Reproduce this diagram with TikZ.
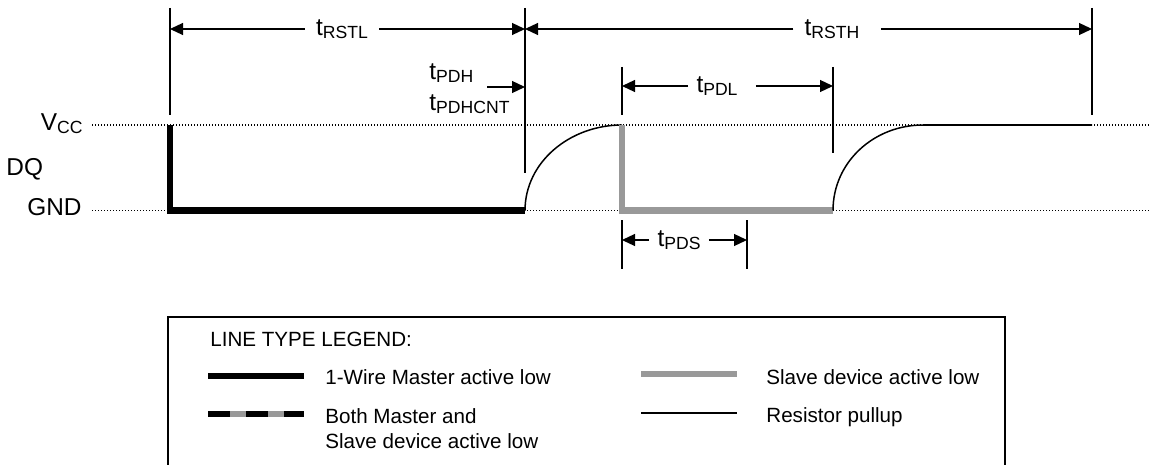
\documentclass[tikz,border=0pt]{standalone}
\usepackage{fontspec}
\setmainfont{Liberation Sans}
\usetikzlibrary{arrows.meta,positioning,calc}
\definecolor{slavegray}{HTML}{999999}
\newcommand{\tsub}[1]{\raisebox{-1.5pt}{\fontsize{8.8}{9}\selectfont #1}}

\begin{document}
\begin{tikzpicture}[
    x=0.5pt, y=-0.5pt,
    lbl/.style={font=\fontsize{12.2}{14}\selectfont, inner sep=0pt},
    dimlbl/.style={font=\fontsize{12.2}{14}\selectfont, inner xsep=5.5pt, inner ysep=0pt},
    legtext/.style={font=\fontsize{10.3}{12.5}\selectfont, inner sep=0pt, anchor=west, align=left},
    dim/.style={-{Triangle[length=6.5pt, width=6pt]}, line width=0.6pt},
    ext/.style={line width=0.6pt},
    rail/.style={dash pattern=on 0.6pt off 0.9pt, line width=0.5pt},
    master/.style={line width=3.4pt},
    slave/.style={line width=3.4pt, slavegray},
    pullup/.style={line width=0.75pt}
  ]
    \useasboundingbox (0,0) rectangle (1150,465);

    % level labels and dotted rails
    \node[lbl, anchor=east] (vcc) at (83,124) {V\tsub{CC}};
    \node[lbl, anchor=west] (dq) at (6,169) {DQ};
    \node[lbl, anchor=east] (gnd) at (82,207) {GND};
    \coordinate (vccL) at (92,125);
    \coordinate (vccR) at (1150,125);
    \coordinate (gndL) at (92,210.5);
    \coordinate (gndR) at (1150,210.5);
    \draw[rail] (vccL) -- (vccR);
    \draw[rail] (gndL) -- (gndR);

    % waveform
    \draw[master] (170,125) -- (170,210.5) -- (525,210.5);
    \draw[pullup] (525,210.5) .. controls (525,162) and (570,125) .. (622,125);
    \draw[slave] (622,125) -- (622,210.5) -- (833,210.5);
    \draw[pullup] (833,210.5) .. controls (833,162) and (874,125) .. (923,125) -- (1092,125);

    % extension lines
    \draw[ext] (170,8) -- (170,115);
    \draw[ext] (525,8) -- (525,173);
    \draw[ext] (1092,8) -- (1092,115);
    \draw[ext] (622,67) -- (622,115);
    \draw[ext] (833,67) -- (833,153);
    \draw[ext] (622,220) -- (622,269);
    \draw[ext] (747,220) -- (747,269);

    % timing arrows
    \coordinate (rstlA) at (170,29);
    \coordinate (rstlB) at (525,29);
    \coordinate (rsthB) at (1092,29);
    \node[dimlbl] (rstl) at (342,29) {t\tsub{RSTL}};
    \node[dimlbl] (rsth) at (832,29) {t\tsub{RSTH}};
    \draw[dim] (rstl.west) -- (rstlA);
    \draw[dim] (rstl.east) -- (rstlB);
    \draw[dim] (rsth.west) -- (rstlB);
    \draw[dim, shorten <=5pt] (rsth.east) -- (rsthB);

    \node[lbl, anchor=west] (pdh) at (429,73) {t\tsub{PDH}};
    \node[lbl, anchor=west] (pdhcnt) at (429,104) {t\tsub{PDHCNT}};
    \coordinate (pdhA) at (487,87);
    \coordinate (pdhB) at (525,87);
    \draw[dim] (pdhA) -- (pdhB);

    \coordinate (pdlA) at (622,86);
    \coordinate (pdlB) at (833,86);
    \node[dimlbl, inner xsep=4pt] (pdl) at (717,86) {t\tsub{PDL}};
    \draw[dim] (pdl.west) -- (pdlA);
    \draw[dim, shorten <=5pt] (pdl.east) -- (pdlB);

    \coordinate (pdsA) at (622,240);
    \coordinate (pdsB) at (747,240);
    \node[dimlbl, inner xsep=4pt] (pds) at (679,240) {t\tsub{PDS}};
    \draw[dim] (pds.west) -- (pdsA);
    \draw[dim] (pds.east) -- (pdsB);

    % legend
    \draw[line width=0.6pt] (168,466) -- (168,317) -- (1005,317) -- (1005,466);
    \node[legtext] (legTitle) at (210,339) {LINE TYPE LEGEND:};
    \draw[master] (208,376) -- (304,376);
    \node[legtext] (legMaster) at (325,377) {1-Wire Master active low};
    \draw[slave] (208,414) -- (304,414);
    \draw[master, dash pattern=on 11pt off 8pt] (208,414) -- (304,414);
    \node[legtext] (legBoth) at (325,428.5) {Both Master and\\Slave device active low};
    \draw[slave] (641,374) -- (737,374);
    \node[legtext] (legSlave) at (766,377) {Slave device active low};
    \draw[pullup] (641,413) -- (737,413);
    \node[legtext] (legPull) at (766,417) {Resistor pullup};
\end{tikzpicture}
\end{document}
